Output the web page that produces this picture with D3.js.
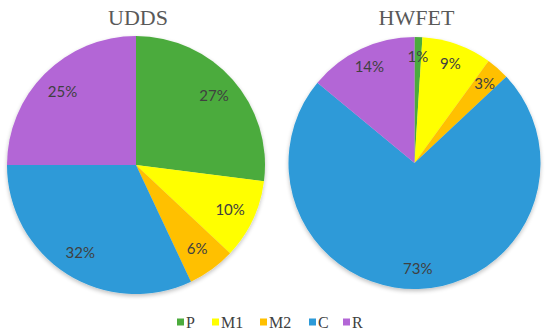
<!DOCTYPE html>
<html>
<head>
<meta charset="utf-8">
<script src="https://cdn.jsdelivr.net/npm/d3@7"></script>
<style>
  body { margin: 0; background: #fff; }
  svg { display: block; }
</style>
</head>
<body>
<div id="chart"></div>
<script>
// slice order, clockwise from 12 o'clock
var categories = ['P', 'M1', 'M2', 'C', 'R'];
var colors = ['#4cab3d', '#ffff00', '#ffc000', '#2d9ad8', '#b366d6'];
var udds_values = [27, 10, 6, 32, 25];
var hwfet_values = [1, 9, 3, 73, 14];
var chart_titles = ['UDDS', 'HWFET'];

var width = 550, height = 336;

var svg = d3.select('#chart')
  .append('svg')
  .attr('width', width)
  .attr('height', height);

var color = d3.scaleOrdinal()
  .domain(categories)
  .range(colors);

// soft shadow under the pies
var defs = svg.append('defs');
var filt = defs.append('filter')
  .attr('id', 'shade')
  .attr('x', '-10%').attr('y', '-10%')
  .attr('width', '120%').attr('height', '125%');
filt.append('feGaussianBlur')
  .attr('in', 'SourceAlpha')
  .attr('stdDeviation', 2);
filt.append('feOffset').attr('dx', 0).attr('dy', 2).attr('result', 'blur');
filt.append('feComponentTransfer').append('feFuncA').attr('type', 'linear').attr('slope', 0.25);
var merge = filt.append('feMerge');
merge.append('feMergeNode');
merge.append('feMergeNode').attr('in', 'SourceGraphic');

var pies = [
  {title: chart_titles[0], values: udds_values, cx: 136, cy: 165, r: 129, lr: 104},
  {title: chart_titles[1], values: hwfet_values, cx: 414.5, cy: 163, r: 126, lr: 106}
];

var pie = d3.pie()
  .sort(null)
  .value(function(d){ return d.value; });

pies.forEach(function(p){

  var data = categories.map(function(c, i){
    return {name: c, value: p.values[i]};
  });

  var arc = d3.arc().innerRadius(0).outerRadius(p.r);
  var label_arc = d3.arc().innerRadius(p.lr).outerRadius(p.lr);

  var g = svg.append('g')
    .attr('transform', 'translate(' + p.cx + ',' + p.cy + ')');

  g.append('g')
    .attr('filter', 'url(#shade)')
    .selectAll('path')
    .data(pie(data))
    .enter()
    .append('path')
    .attr('d', arc)
    .attr('fill', function(d){ return color(d.data.name); });

  g.selectAll('text.lbl')
    .data(pie(data))
    .enter()
    .append('text')
    .classed('lbl', true)
    .attr('transform', function(d){ return 'translate(' + label_arc.centroid(d) + ')'; })
    .attr('text-anchor', 'middle')
    .attr('dy', '0.35em')
    .style('font-family', 'Lato, "Open Sans", sans-serif')
    .style('font-size', '15px')
    .style('fill', '#404040')
    .text(function(d){ return d.data.value + '%'; });

  svg.append('text')
    .attr('x', p.cx + 2)
    .attr('y', 25)
    .attr('text-anchor', 'middle')
    .style('font-family', '"Liberation Serif", serif')
    .style('font-size', '22px')
    .style('fill', '#595959')
    .text(p.title);
});

// legend
var legend_x = [177, 212, 260, 309, 343];
var legend = svg.append('g').attr('class', 'legend');

var items = legend.selectAll('g')
  .data(categories)
  .enter()
  .append('g')
  .attr('transform', function(d, i){ return 'translate(' + legend_x[i] + ',322)'; });

items.append('rect')
  .attr('x', 0)
  .attr('y', -3.5)
  .attr('width', 7)
  .attr('height', 7)
  .attr('fill', function(d){ return color(d); });

items.append('text')
  .attr('x', 9)
  .attr('y', 5.5)
  .style('font-family', '"Liberation Serif", serif')
  .style('font-size', '16px')
  .style('fill', '#404040')
  .text(function(d){ return d; });
</script>
</body>
</html>
